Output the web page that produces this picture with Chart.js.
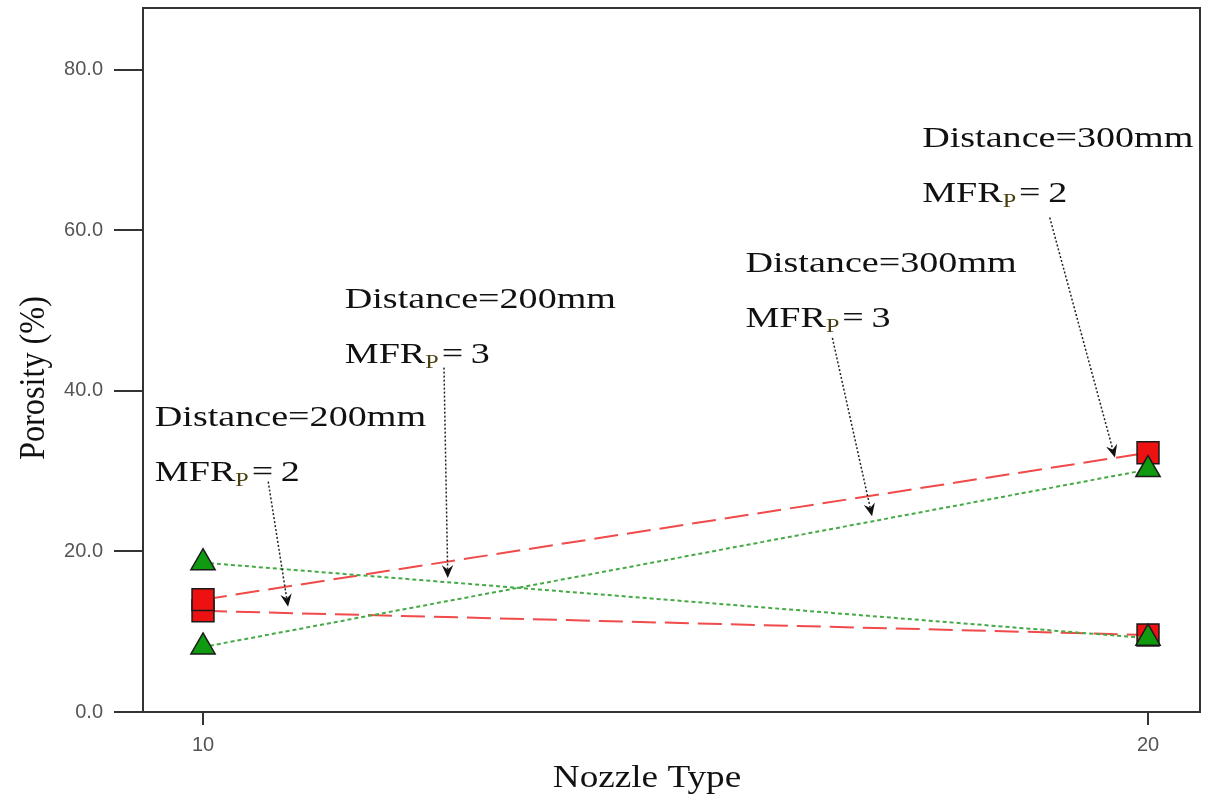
<!DOCTYPE html>
<html>
<head>
<meta charset="utf-8">
<script src="https://cdn.jsdelivr.net/npm/chart.js@4.4.0/dist/chart.umd.min.js"></script>
<style>
  html, body { margin: 0; padding: 0; background: #fff; }
</style>
</head>
<body>
<canvas id="myChart" width="1211" height="800"></canvas>
<script>
// data
const nozzleTypes = [10, 20];
const redUpper = [14.0, 32.3];   // Distance 300mm, MFRp 2
const redLower = [12.6, 9.6];    // Distance 200mm, MFRp 2
const greenUpper = [18.6, 9.2];  // Distance 200mm, MFRp 3
const greenLower = [8.1, 30.2];  // Distance 300mm, MFRp 3
const yTicks = [0, 20, 40, 60, 80];
const xTicks = [10, 20];

// callouts: text anchor + arrow start/tip, in data units
const noteDistance = ["Distance=200mm", "Distance=200mm", "Distance=300mm", "Distance=300mm"];
const noteMfr = ["2", "3", "3", "2"];
const noteTextPos = [[9.49, 35.6], [11.50, 50.3], [15.74, 54.8], [17.61, 70.4]];
const noteArrowFrom = [[10.69, 28.7], [12.55, 42.9], [16.66, 46.6], [18.96, 61.6]];
const noteArrowTo = [[10.90, 13.1], [12.59, 16.7], [17.08, 24.4], [19.65, 31.7]];

const SERIF = "'Liberation Serif'";
const STRETCH = 1.27; // the serif text in the picture is drawn wide

const toPoints = (vals) => vals.map((v, i) => ({ x: nozzleTypes[i], y: v }));

function wideText(ctx, txt, x, y, size, color) {
  ctx.save();
  ctx.translate(x, y);
  ctx.scale(STRETCH, 1);
  ctx.font = size + "px " + SERIF;
  ctx.fillStyle = color;
  ctx.fillText(txt, 0, 0);
  const w = ctx.measureText(txt).width * STRETCH;
  ctx.restore();
  return w;
}

const boxPlugin = {
  id: "box",
  afterDraw(chart) {
    const { ctx, chartArea: a } = chart;
    ctx.save();
    ctx.strokeStyle = "#333";
    ctx.lineWidth = 2;
    ctx.beginPath();
    ctx.moveTo(a.left, a.top);
    ctx.lineTo(a.right, a.top);
    ctx.lineTo(a.right, a.bottom);
    ctx.stroke();

    // axis titles
    ctx.fillStyle = "#111";
    ctx.font = "31px " + SERIF;
    ctx.textAlign = "center";
    ctx.textBaseline = "alphabetic";
    ctx.save();
    ctx.translate(647, 787);
    ctx.scale(1.2, 1);
    ctx.fillText("Nozzle Type", 0, 0);
    ctx.restore();
    ctx.translate(44, 378);
    ctx.rotate(-Math.PI / 2);
    ctx.scale(1.04, 1.15);
    ctx.fillText("Porosity (%)", 0, 0);
    ctx.restore();
  }
};

const notesPlugin = {
  id: "notes",
  afterDatasetsDraw(chart) {
    const { ctx, scales } = chart;
    const px = (p) => [scales.x.getPixelForValue(p[0]), scales.y.getPixelForValue(p[1])];
    ctx.save();
    ctx.textBaseline = "alphabetic";
    ctx.textAlign = "left";
    noteDistance.forEach((txt, i) => {
      const [tx, ty] = px(noteTextPos[i]);
      wideText(ctx, txt, tx, ty, 30, "#111");
      const y2 = ty + 55;
      let w = wideText(ctx, "MFR", tx, y2, 30, "#111");
      w += wideText(ctx, "P", tx + w, y2 + 5, 19, "#4a3f10") + 3;
      wideText(ctx, "=\u2009" + noteMfr[i], tx + w, y2, 30, "#111");

      // dotted arrow
      const [x1, y1] = px(noteArrowFrom[i]);
      const [x0, y0] = px(noteArrowTo[i]);
      const ang = Math.atan2(y0 - y1, x0 - x1);
      const hl = 14;
      ctx.strokeStyle = "#222";
      ctx.lineWidth = 1.5;
      ctx.setLineDash([2, 2]);
      ctx.beginPath();
      ctx.moveTo(x1, y1);
      ctx.lineTo(x0 - Math.cos(ang) * hl * 0.6, y0 - Math.sin(ang) * hl * 0.6);
      ctx.stroke();
      ctx.setLineDash([]);
      ctx.fillStyle = "#111";
      ctx.beginPath();
      ctx.moveTo(x0, y0);
      ctx.lineTo(x0 - Math.cos(ang - 0.42) * hl, y0 - Math.sin(ang - 0.42) * hl);
      ctx.lineTo(x0 - Math.cos(ang) * hl * 0.6, y0 - Math.sin(ang) * hl * 0.6);
      ctx.lineTo(x0 - Math.cos(ang + 0.42) * hl, y0 - Math.sin(ang + 0.42) * hl);
      ctx.closePath();
      ctx.fill();
    });
    ctx.restore();
  }
};

const greenStyle = {
  borderColor: "#45aa45",
  borderWidth: 2,
  borderDash: [4, 3],
  pointStyle: "triangle",
  pointRadius: 14,
  pointBackgroundColor: "#0f9a0f",
  pointBorderColor: "#1a1a1a",
  pointBorderWidth: 1.5,
  showLine: true,
  fill: false
};
const redStyle = {
  borderColor: "#f04a4a",
  borderWidth: 2,
  borderDash: [24, 9],
  pointStyle: "rect",
  pointRadius: 15.5,
  pointBackgroundColor: "#ee1111",
  pointBorderColor: "#1a1a1a",
  pointBorderWidth: 1.5,
  showLine: true,
  fill: false
};

const noPad = (s) => { s.paddingTop = 0; s.paddingBottom = 0; s.paddingLeft = 0; s.paddingRight = 0; };

new Chart(document.getElementById("myChart"), {
  type: "scatter",
  data: {
    datasets: [
      { label: "Distance 200mm, MFRp 3", data: toPoints(greenUpper), ...greenStyle },
      { label: "Distance 300mm, MFRp 3", data: toPoints(greenLower), ...greenStyle },
      { label: "Distance 300mm, MFRp 2", data: toPoints(redUpper), ...redStyle },
      { label: "Distance 200mm, MFRp 2", data: toPoints(redLower), ...redStyle }
    ]
  },
  options: {
    responsive: false,
    animation: false,
    devicePixelRatio: 1,
    layout: { autoPadding: false, padding: { top: 8, right: 11, left: 0, bottom: 0 } },
    plugins: { legend: { display: false }, tooltip: { enabled: false } },
    scales: {
      x: {
        type: "linear",
        min: 9.365,
        max: 20.55,
        afterFit: (s) => { s.height = 88; noPad(s); },
        afterBuildTicks: (s) => { s.ticks = xTicks.map((v) => ({ value: v })); },
        grid: { drawOnChartArea: false, drawTicks: true, tickLength: 13, color: "#333", lineWidth: 2 },
        border: { display: true, color: "#333", width: 2 },
        ticks: { color: "#555", font: { family: "'Liberation Sans'", size: 20 }, padding: 8, maxRotation: 0 }
      },
      y: {
        min: 0,
        max: 87.7,
        afterFit: (s) => { s.width = 143; noPad(s); },
        afterBuildTicks: (s) => { s.ticks = yTicks.map((v) => ({ value: v })); },
        grid: { drawOnChartArea: false, drawTicks: true, tickLength: 29, color: "#333", lineWidth: 2 },
        border: { display: true, color: "#333", width: 2 },
        ticks: {
          color: "#555",
          font: { family: "'Liberation Sans'", size: 20 },
          padding: 11,
          callback: (v) => Number(v).toFixed(1)
        }
      }
    }
  },
  plugins: [notesPlugin, boxPlugin]
});
</script>
</body>
</html>
